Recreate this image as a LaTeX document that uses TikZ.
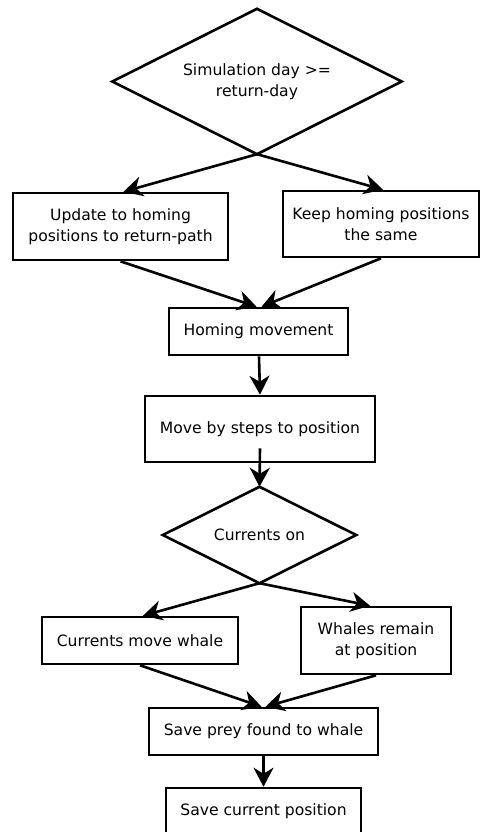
\documentclass[tikz,border=0pt]{standalone}
\usepackage{fontspec}
\setmainfont{DejaVu Sans}
\usetikzlibrary{arrows.meta}
\begin{document}
\begin{tikzpicture}[x=1pt,y=-1pt,
  every node/.style={font=\fontsize{15.6}{20.5}\selectfont, align=center, inner sep=0pt},
  box/.style={draw, line width=2.6pt, rectangle},
  dec/.style={rectangle},
  decline/.style={line width=2.6pt, line join=miter},
  conn/.style={line width=2.6pt, -{Stealth[length=19pt,width=20pt,inset=6pt]}}]
\useasboundingbox (0,0) rectangle (480,832);
\node[dec, minimum width=289pt, minimum height=145pt] (d1) at (257,81.5) {Simulation day >=\\return-day};
\draw[decline] (d1.north) -- (d1.east) -- (d1.south) -- (d1.west) -- cycle;
\node[box, minimum width=215pt, minimum height=67pt] (upd) at (120.5,226.5) {Update to homing\\positions to return-path};
\node[box, minimum width=196pt, minimum height=66pt] (keep) at (381,224) {Keep homing positions\\the same};
\node[box, minimum width=179pt, minimum height=47pt] (hom) at (258.5,331.5) {Homing movement};
\node[box, minimum width=230pt, minimum height=66pt] (move) at (260,429) {Move by steps to position};
\node[dec, minimum width=193pt, minimum height=96pt] (d2) at (259.5,535) {Currents on};
\draw[decline] (d2.north) -- (d2.east) -- (d2.south) -- (d2.west) -- cycle;
\node[box, minimum width=196pt, minimum height=47pt] (cur) at (140,640.5) {Currents move whale};
\node[box, minimum width=150pt, minimum height=67pt] (wha) at (376,640.5) {Whales remain\\at position};
\node[box, minimum width=229pt, minimum height=47pt] (prey) at (263.5,731.5) {Save prey found to whale};
\node[box, minimum width=195pt, minimum height=47pt] (save) at (263.5,811.5) {Save current position};
\draw[conn] (d1.south) -- ([xshift=3pt]upd.north);
\draw[conn] (d1.south) -- ([xshift=2pt]keep.north);
\draw[conn] (upd.south) -- ([xshift=-2pt]hom.north);
\draw[conn] (keep.south) -- ([xshift=3pt]hom.north);
\draw[conn] ([xshift=0.5pt]hom.south) -- (move.north);
\draw[conn] ([yshift=15pt]move.south) -- (d2.north);
\draw[conn] (d2.south) -- ([xshift=3pt]cur.north);
\draw[conn] (d2.south) -- ([xshift=-6pt]wha.north);
\draw[conn] (cur.south) -- ([xshift=-2pt]prey.north);
\draw[conn] (wha.south) -- ([xshift=2pt]prey.north);
\draw[conn] (prey.south) -- (save.north);
\end{tikzpicture}
\end{document}
